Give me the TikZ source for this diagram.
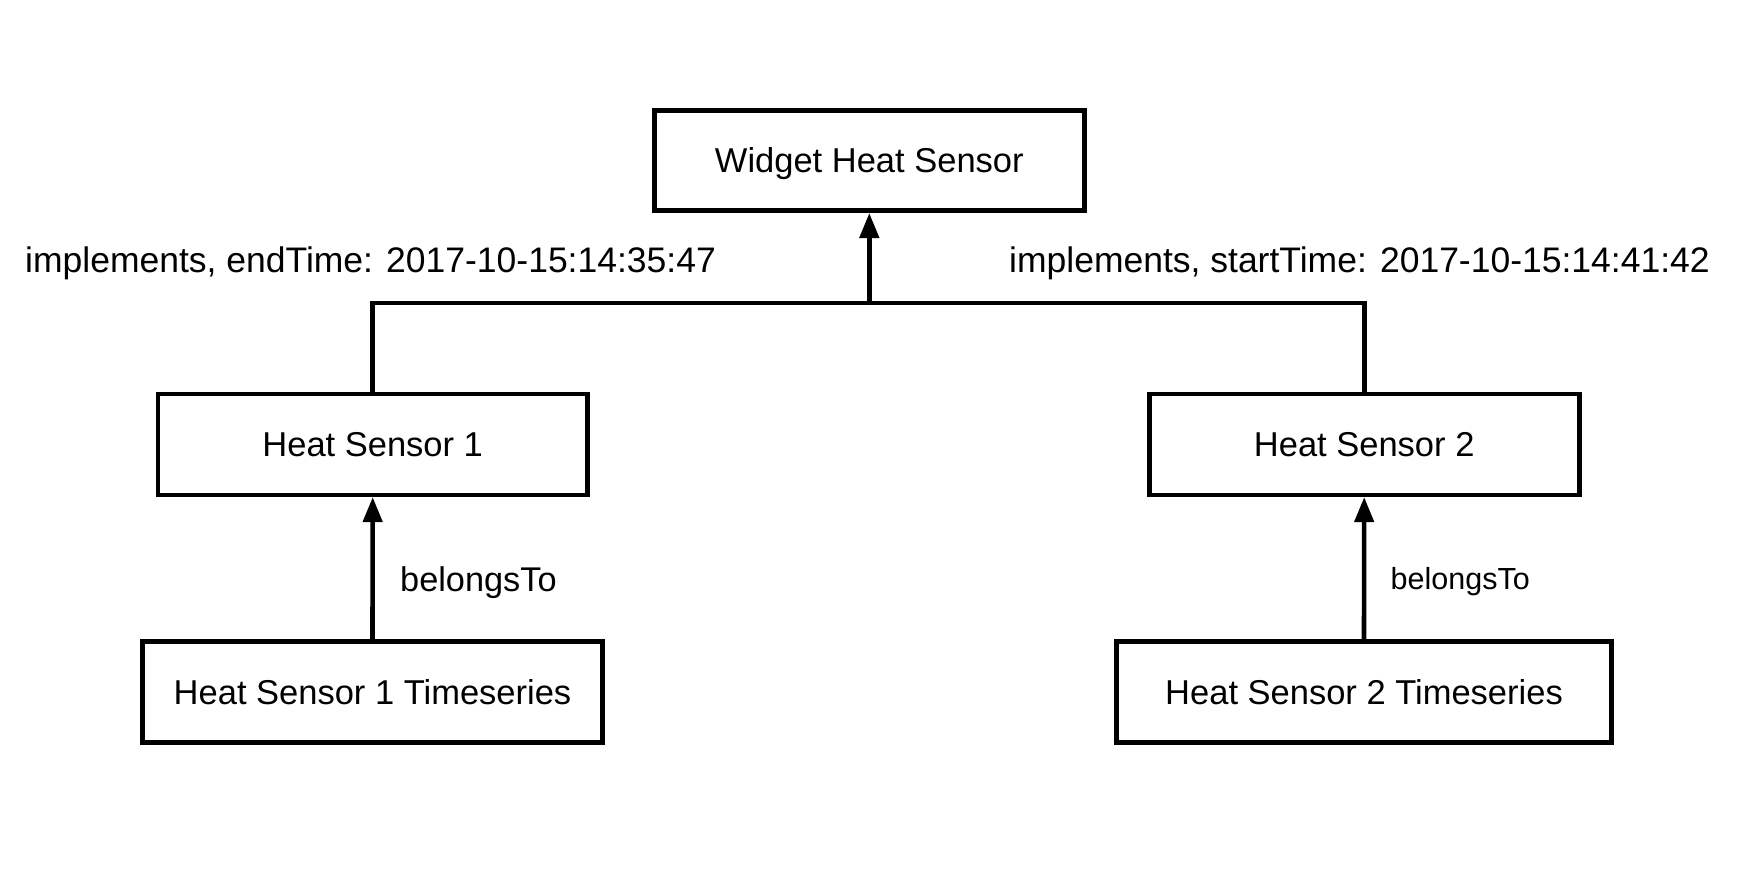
\documentclass[tikz,border=0pt]{standalone}
\usepackage{fontspec}
\setmainfont{Liberation Sans}
\usetikzlibrary{arrows.meta}
\begin{document}
\begin{tikzpicture}[x=1pt,y=-1pt,
  box/.style={draw=black, line width=4.6pt, fill=white, inner sep=0pt,
    minimum height=101pt, font=\fontsize{34.5}{40}\selectfont,
    text height=24.5pt, text depth=0pt},
  link/.style={draw=black, line width=4.6pt},
  lbl/.style={inner sep=0pt, anchor=base west, font=\fontsize{35.5}{42}\selectfont},
  tip/.style={-{Triangle[length=25pt,width=19pt]}}]
\fill[white] (0,0) rectangle (1764,881);
\useasboundingbox (0,0) rectangle (1764,881);
\node[box, minimum width=430pt, minimum height=100pt] (w) at (869.3,160.7) {Widget Heat Sensor};
\node[box, minimum width=429.5pt] (h1) at (372.7,444.3) {Heat Sensor 1};
\node[box, minimum width=430pt] (h2) at (1364.2,444.3) {Heat Sensor 2};
\node[box, minimum width=460pt] (t1) at (372.5,691.8) {Heat Sensor 1 Timeseries};
\node[box, minimum width=495pt] (t2) at (1364,691.8) {Heat Sensor 2 Timeseries};
\coordinate (j) at (869.3,302.8);
\draw[link] (h1.north) |- (j) -| (h2.north);
\draw[link, tip] (j) -- (w.south);
\draw[link, tip] (t1.north) -- (h1.south);
\draw[link, tip] (t2.north) -- (h2.south);
\node[lbl] (l1) at (25,272) {implements, endTime: 2017-10-15:14:35:47};
\node[lbl] (l2) at (1009,272) {implements, startTime: 2017-10-15:14:41:42};
\node[lbl, font=\fontsize{34.3}{40}\selectfont] (b1) at (400,591.7) {belongsTo};
\node[lbl, font=\fontsize{30.5}{36}\selectfont] (b2) at (1390.5,589) {belongsTo};
\end{tikzpicture}
\end{document}
